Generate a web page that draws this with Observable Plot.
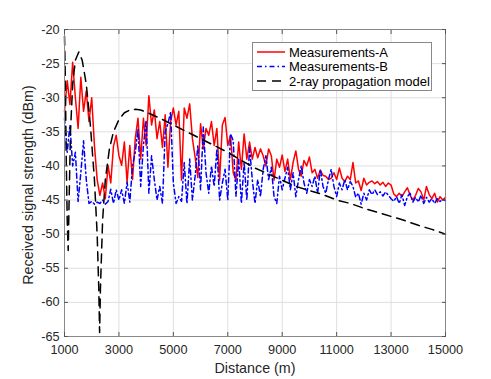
<!DOCTYPE html>
<html><head><meta charset="utf-8">
<script src="https://cdn.jsdelivr.net/npm/d3@7"></script>
<script src="https://cdn.jsdelivr.net/npm/@observablehq/plot@0.6"></script>
<style>
body{margin:0;background:#fff;}
#chart{position:relative;width:491px;height:379px;}
</style></head><body><div id="chart"></div>
<script>
const distance = [1000,1100,1200,1300,1400,1500,1600,1700,1800,1900,2000,2100,2200,2300,2400,2500,2600,2700,2800,2900,
3000,3100,3200,3300,3400,3500,3600,3700,3800,3900,4000,4100,4200,4300,4400,4500,4600,4700,4800,4900,
5000,5100,5200,5300,5400,5500,5600,5700,5800,5900,6000,6100,6200,6300,6400,6500,6600,6700,6800,6900,
7000,7100,7200,7300,7400,7500,7600,7700,7800,7900,8000,8100,8200,8300,8400,8500,8600,8700,8800,8900,
9000,9100,9200,9300,9400,9500,9600,9700,9800,9900,10000,10100,10200,10300,10400,10500,10600,10700,10800,10900,
11000,11100,11200,11300,11400,11500,11600,11700,11800,11900,12000,12100,12200,12300,12400,12500,12600,12700,12800,12900,
13000,13100,13200,13300,13400,13500,13600,13700,13800,13900,14000,14100,14200,14300,14400,14500,14600,14700,14800,14900,15000];

const measA = [-32,-27.5,-31,-24.8,-30,-34.5,-27,-32,-29,-33.5,-30,-37,-42,-44.3,-42.5,-44.8,-39.9,-42.5,-37.1,-35.5,
-38.5,-39.9,-36.5,-42.4,-37,-42,-36,-33,-39,-33,-37,-29.7,-34,-31.8,-36,-33.5,-37.3,-32.5,-40.2,-33.5,
-31.5,-34,-32,-42.1,-31.5,-33,-30.9,-36,-38.7,-41.7,-33.8,-37.5,-34.5,-35.5,-33.5,-37,-34.5,-42.1,-34,-32.9,
-37,-35.5,-41,-42.1,-36.5,-40.5,-35.3,-39,-36.5,-39,-37.3,-38.8,-37.5,-38.5,-40,-37.5,-38.5,-42.1,-39,-40.2,
-38.4,-40.8,-39,-42,-39.5,-37.8,-40.5,-41.5,-39.2,-40,-38.7,-41,-40.5,-41.8,-40.6,-41.4,-41.5,-42,-41.8,-41,
-42,-40.3,-41.8,-42.3,-41.5,-42,-39.5,-42.5,-42.2,-43.6,-41.8,-42.8,-42.4,-42.2,-42.6,-42.3,-42.8,-42.4,-43,-42.5,
-42.8,-44.1,-44.5,-44,-44.5,-43.8,-43.2,-44.3,-45,-44.3,-43.3,-43.8,-45,-43,-44.2,-44.8,-44,-45.3,-44.5,-45,-44.6];

const measB = [-33,-38,-34,-40,-38,-45.2,-41,-36.3,-42,-45.5,-45.2,-45.6,-45.3,-45.5,-45,-45.6,-45.2,-43.4,-45.5,-43.5,
-45,-43.5,-45.5,-42.4,-45.3,-39.9,-38,-34.6,-43,-37,-33.3,-44,-38.5,-42,-45,-43,-45.5,-35,-33.8,-32.1,
-42.5,-45.5,-44.5,-45.2,-39.5,-45.5,-39,-45,-41.5,-37,-43.5,-34.3,-41,-44,-40,-43,-37.5,-45,-42.5,-40.5,
-45,-35.3,-36.3,-44.5,-39,-45.5,-39.5,-45,-37.3,-42,-45.5,-42,-44.5,-40.5,-38.5,-42,-40.2,-44.5,-45.5,-41.5,
-43.5,-41.8,-40.2,-43.5,-41,-44.5,-42,-40,-42.5,-44,-42,-43,-41.5,-44,-40.5,-43,-44,-42,-40.5,-43,
-44.5,-42.5,-43.5,-42,-43.5,-42.3,-43,-44.6,-44,-45.6,-44,-45,-43.5,-44.2,-43.5,-44.2,-43.8,-44.4,-43.8,-44.3,
-44.8,-45.2,-44.5,-45.5,-44.2,-45.8,-44.5,-44,-45.3,-44.6,-45.3,-44.3,-45.5,-44.6,-45.3,-44.8,-45.5,-44.8,-45.2,-44.9,-45.1];

const modelDistance = [1000,1030,1060,1100,1136,1170,1220,1300,1400,1525,1650,1800,1950,2100,2200,2260,2290,2320,2400,2500,
2650,2800,3000,3200,3400,3609,3800,4000,4500,5000,5500,6000,6500,7000,7500,8000,8500,9000,9500,10000,
10500,11000,11500,12000,12500,13000,13500,14000,14500,15000];
const modelRss = [-21,-27,-38,-48,-52.4,-45,-35,-28,-24.5,-23.3,-24.5,-28,-34,-42,-50,-58,-64.4,-58,-48,-42,
-37.5,-35,-33.2,-32.2,-31.8,-31.7,-31.8,-32.1,-33,-34,-35,-36,-37,-38,-39.2,-40.3,-41.2,-42.1,-43,-43.6,
-44.2,-45,-45.5,-46.2,-46.8,-47.4,-48,-48.7,-49.3,-50];

const xTicks = [1000,3000,5000,7000,9000,11000,13000,15000];
const yTicks = [-65,-60,-55,-50,-45,-40,-35,-30,-25,-20];
const seriesNames = ["Measurements-A","Measurements-B","2-ray propagation model"];
const xLabel = "Distance (m)";
const yLabel = "Received signal strength (dBm)";

const rowsA = distance.map((d, i) => ({d, v: measA[i]}));
const rowsB = distance.map((d, i) => ({d, v: measB[i]}));
const rowsM = modelDistance.map((d, i) => ({d, v: modelRss[i]}));

const font = "'Liberation Sans', Arial, Helvetica, sans-serif";
const axisColor = "#555";

const plot = Plot.plot({
  width: 491, height: 379,
  marginLeft: 64, marginRight: 46, marginTop: 29, marginBottom: 43,
  style: {fontFamily: font, fontSize: "12.7px", color: "#262626", background: "#fff"},
  x: {domain: [1000, 15000]},
  y: {domain: [-65, -20]},
  marks: [
    Plot.gridX(xTicks, {stroke: "#dfdfdf", strokeOpacity: 1}),
    Plot.gridY(yTicks, {stroke: "#dfdfdf", strokeOpacity: 1}),
    Plot.line(rowsA, {x: "d", y: "v", stroke: "#ff0000", strokeWidth: 1.5}),
    Plot.line(rowsB, {x: "d", y: "v", stroke: "#0000ff", strokeWidth: 1.5, strokeDasharray: "5,3,1.5,3"}),
    Plot.line(rowsM, {x: "d", y: "v", stroke: "#000", strokeWidth: 1.5, strokeDasharray: "9,6"}),
    Plot.frame({stroke: "#888", strokeWidth: 1}),
    Plot.axisX(xTicks, {anchor: "bottom", tickSize: -4, tickPadding: 12, label: null, stroke: axisColor, tickFormat: d => String(d), fill: "#262626"}),
    Plot.axisX(xTicks, {anchor: "top", tickSize: -4, label: null, stroke: axisColor, tickFormat: () => ""}),
    Plot.axisY(yTicks, {anchor: "left", tickSize: -4, tickPadding: 9, label: null, stroke: axisColor, tickFormat: d => String(d), fill: "#262626"}),
    Plot.axisY(yTicks, {anchor: "right", tickSize: -4, label: null, stroke: axisColor, tickFormat: () => ""}),
    Plot.text([xLabel], {frameAnchor: "bottom", dy: 32, lineAnchor: "middle", textAnchor: "middle", text: d => d, fontSize: 14.3, fill: "#262626"}),
    Plot.text([yLabel], {frameAnchor: "left", dx: -36, dy: 2, rotate: -90, lineAnchor: "middle", textAnchor: "middle", text: d => d, fontSize: 14.3, fill: "#262626"})
  ]
});

document.getElementById("chart").appendChild(plot);

// Legend inside the axes (upper right)
const svg = d3.select(plot);
const lg = svg.append("g").attr("font-family", font).attr("font-size", 13).attr("fill", "#000").attr("text-anchor", "start");
lg.append("rect").attr("x", 252.5).attr("y", 42.5).attr("width", 179).attr("height", 48)
  .attr("fill", "#fff").attr("stroke", "#888").attr("stroke-width", 1);
const legendStyles = [
  {stroke: "#ff0000", dash: null},
  {stroke: "#0000ff", dash: "5,3,1.5,3"},
  {stroke: "#000", dash: "9,6"}
];
seriesNames.forEach((name, i) => {
  const cy = 52 + i * 14.5;
  lg.append("line").attr("x1", 257).attr("x2", 285).attr("y1", cy).attr("y2", cy)
    .attr("stroke", legendStyles[i].stroke).attr("stroke-width", 1.5)
    .attr("stroke-dasharray", legendStyles[i].dash);
  lg.append("text").attr("x", 289).attr("y", cy).attr("dy", "0.35em").attr("text-anchor", "start").text(name);
});
</script>
</body></html>
